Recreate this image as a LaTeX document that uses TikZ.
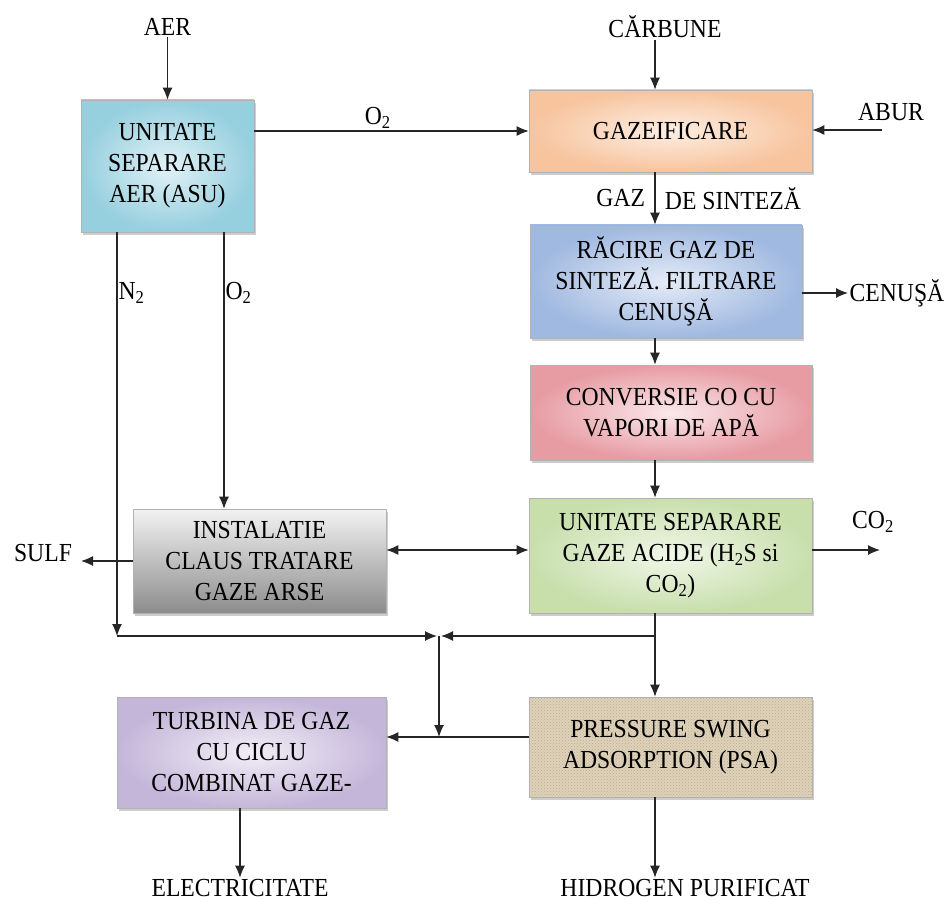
\documentclass[tikz,border=0pt]{standalone}
\usepackage{fontspec}
\setmainfont{Liberation Serif}[FakeStretch=0.91]
\usetikzlibrary{shadows,arrows.meta,patterns}
\definecolor{asuin}{RGB}{226,242,247}
\definecolor{asuout}{RGB}{150,207,222}
\definecolor{gazin}{RGB}{253,238,226}
\definecolor{gazout}{RGB}{247,196,158}
\definecolor{racin}{RGB}{228,235,247}
\definecolor{racout}{RGB}{160,185,224}
\definecolor{convin}{RGB}{250,232,234}
\definecolor{convout}{RGB}{231,155,163}
\definecolor{acidin}{RGB}{241,247,233}
\definecolor{acidout}{RGB}{200,223,172}
\definecolor{turbin}{RGB}{242,238,247}
\definecolor{turbout}{RGB}{196,182,217}
\definecolor{psafill}{RGB}{222,210,186}
\definecolor{psadots}{RGB}{188,172,140}
\tikzset{
  procbox/.style = {
    draw=black!30, line width=0.6pt, align=center, inner sep=2pt,
    drop shadow={shadow xshift=2pt, shadow yshift=-3pt, opacity=0.4}
  },
  stream/.style = {inner sep=1pt}
}
\tikzset{>={Latex[length=12pt,width=10pt]}}

\begin{document}
\begin{tikzpicture}[x=1pt, y=-1pt, line width=1.2pt, draw=black!85,
    font=\fontsize{26}{31}\selectfont]
  \useasboundingbox (0,0) rectangle (950,901);
  % process units
  \node[procbox, minimum width=173pt, minimum height=132pt,
    inner color=asuin, outer color=asuout] (asu) at (167.5,166)
    {UNITATE\\SEPARARE\\AER (ASU)};
  \node[procbox, minimum width=283pt, minimum height=82pt,
    inner color=gazin, outer color=gazout] (gaz) at (670.5,131)
    {GAZEIFICARE};
  \node[procbox, minimum width=272pt, minimum height=113pt,
    inner color=racin, outer color=racout] (rac) at (666,281.5)
    {RĂCIRE GAZ DE\\SINTEZĂ. FILTRARE\\CENUŞĂ};
  \node[procbox, minimum width=282pt, minimum height=95pt,
    inner color=convin, outer color=convout] (conv) at (671,412.5)
    {CONVERSIE CO CU\\VAPORI DE APĂ};
  \node[procbox, minimum width=283pt, minimum height=115pt,
    inner color=acidin, outer color=acidout] (acid) at (670.5,555.5)
    {UNITATE SEPARARE\\GAZE ACIDE (H\textsubscript{2}S si\\CO\textsubscript{2})};
  \node[procbox, minimum width=253pt, minimum height=104pt,
    top color=black!5, bottom color=black!45] (claus) at (259.5,561)
    {INSTALATIE\\CLAUS TRATARE\\GAZE ARSE};
  \node[procbox, minimum width=269pt, minimum height=111pt,
    inner color=turbin, outer color=turbout] (turb) at (251.5,752.5)
    {TURBINA DE GAZ\\CU CICLU\\COMBINAT GAZE-};
  \node[procbox, minimum width=283pt, minimum height=100pt, fill=psafill,
    postaction={pattern=crosshatch dots, pattern color=psadots}] (psa) at (670.5,747)
    {PRESSURE SWING\\ADSORPTION (PSA)};

  % inputs and outputs
  \node[stream] (aer) at (167.5,27) {AER};
  \node[stream] (carb) at (665,27) {CĂRBUNE};
  \node[stream] (abur) at (891,112) {ABUR};
  \node[stream, anchor=west] (cen) at (848,293) {CENUŞĂ};
  \node[stream] (co2) at (873,522) {CO\textsubscript{2}};
  \node[stream] (sulf) at (43,553) {SULF};
  \node[stream] (elec) at (240,888) {ELECTRICITATE};
  \node[stream] (hid) at (685,888) {HIDROGEN PURIFICAT};

  \coordinate (spine) at (655,0);
  \coordinate (o2x) at (224,0);
  \coordinate (aburend) at (882,130);
  \coordinate (co2end) at (880,550);
  \coordinate (sulfend) at (81,561);
  \coordinate (n2) at (117,636);
  \coordinate (mix) at (439,636);
  \coordinate (tee) at (439,737);

  % main line
  \draw[->] (aer) -- (asu);
  \draw[->] (carb.south -| spine) -- (gaz.north -| spine);
  \draw[->] (gaz.west -| asu.east) -- node[pos=0.45, above=-1pt] {O\textsubscript{2}} (gaz.west);
  \draw[->] (aburend) -- (gaz.east |- aburend);
  \draw[->] (gaz.south -| spine) -- node[left=6pt] {GAZ} node[right=6pt] {DE SINTEZĂ} (rac.north -| spine);
  \draw[->] (rac.east |- cen) -- (cen.west);
  \draw[->] (rac.south -| spine) -- (conv.north -| spine);
  \draw[->] (conv.south -| spine) -- (acid.north -| spine);
  \draw[->] (acid.east |- co2end) -- (co2end);
  \draw[<->] (claus.east |- co2end) -- (acid.west |- co2end);
  \draw[->] (claus.west) -- (sulfend);
  % air separation products
  \draw[->] (asu.south -| n2) -- node[right, pos=0.15, stream] {N\textsubscript{2}} (n2);
  \draw[->] (asu.south -| o2x) -- node[right, pos=0.22, stream] {O\textsubscript{2}} (claus.north -| o2x);
  % gas to turbine
  \draw[->, shorten >=2pt] (n2) -- (mix);
  \draw[->, shorten >=2pt] (acid.south -| spine) |- (mix);
  \draw[->] (acid.south -| spine) -- (psa.north -| spine);
  \draw[->] (mix) -- (tee);
  \draw[->] (psa.west |- tee) -- (turb.east |- tee);
  \draw[->] (turb.south -| elec) -- (elec.north);
  \draw[->] (psa.south -| spine) -- (hid.north -| spine);
\end{tikzpicture}
\end{document}
